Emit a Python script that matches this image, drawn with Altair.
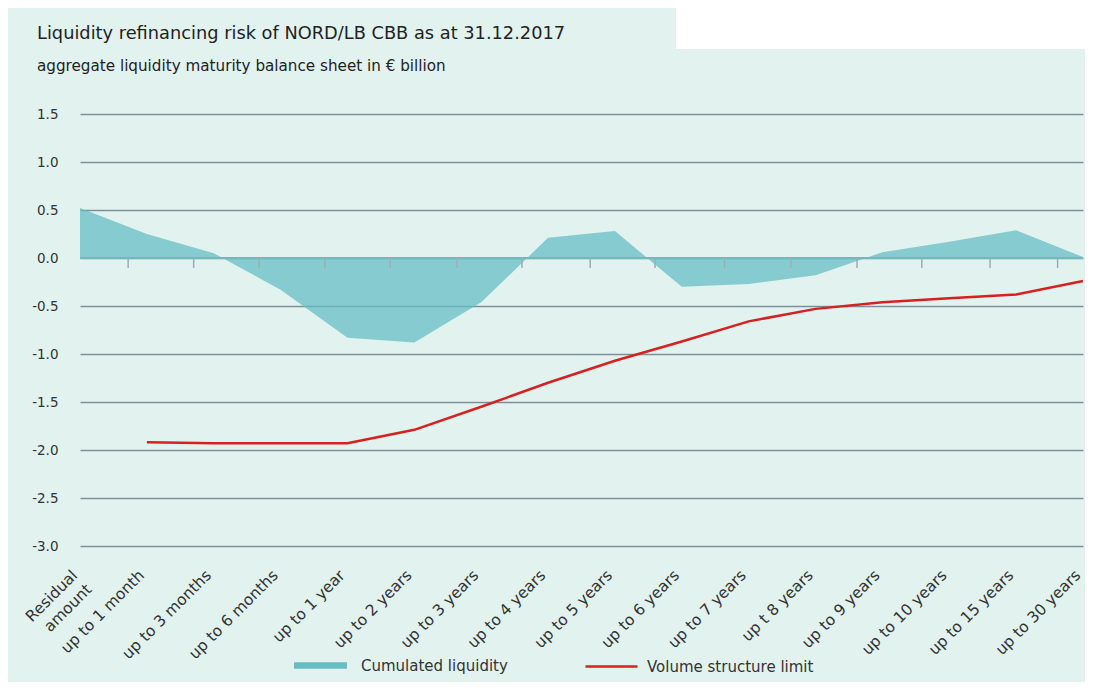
import json
import altair as alt
import pandas as pd

categories = ["Residual\namount", "up to 1 month", "up to 3 months", "up to 6 months",
              "up to 1 year", "up to 2 years", "up to 3 years", "up to 4 years",
              "up to 5 years", "up to 6 years", "up to 7 years", "up t 8 years",
              "up to 9 years", "up to 10 years", "up to 15 years", "up to 30 years"]
cumulated = [0.52, 0.25, 0.05, -0.33, -0.83, -0.88, -0.46, 0.21, 0.28, -0.30,
             -0.27, -0.18, 0.06, 0.17, 0.29, 0.01]
limit = [None, -1.92, -1.93, -1.93, -1.93, -1.79, -1.55, -1.30, -1.07, -0.87,
         -0.66, -0.53, -0.46, -0.42, -0.38, -0.24]
tick_pos = [0.72, 1.70, 2.68, 3.66, 4.64, 5.64, 6.61, 7.63, 8.60, 9.64,
            10.63, 11.62, 12.59, 13.61, 14.62]
y_ticks = [-3.0, -2.5, -2.0, -1.5, -1.0, -0.5, 0.0, 0.5, 1.0, 1.5]

FONT = "DejaVu Sans"
TEAL = "#66bec4"
RED = "#d7201f"
BG = "#e2f2ef"
TXT = "#333333"

df = pd.DataFrame({
    "idx": list(range(len(categories))),
    "cat": categories,
    "cum": cumulated,
    "lim": limit,
})
df["s1"] = "Cumulated liquidity"
df["s2"] = "Volume structure limit"
line_df = df.dropna(subset=["lim"])
ticks_df = pd.DataFrame({"t": tick_pos})

label_arr = [c.split("\n") if "\n" in c else c for c in categories]
label_expr = json.dumps(label_arr) + "[round(datum.value)]"

x_scale = alt.Scale(domain=[0, len(categories) - 1], nice=False, zero=False)
y_scale = alt.Scale(domain=[-3.0, 1.5], nice=False, zero=False)

x_axis = alt.Axis(values=list(range(len(categories))), labelExpr=label_expr,
                  labelAngle=-45, labelAlign="right", labelBaseline="bottom",
                  labelFontSize=15.5, labelColor=TXT, labelFont=FONT,
                  labelPadding=32, ticks=False, domain=False, grid=False,
                  title=None, labelOverlap=False, labelLineHeight=20,
                  labelBound=False, labelFlush=False)
y_axis = alt.Axis(values=y_ticks,
                  labelExpr="replace(format(datum.value, '.1f'), '\u2212', '-')",
                  labelFontSize=13.5, labelColor=TXT, labelFont=FONT,
                  labelPadding=22, ticks=False, domain=False, grid=True,
                  gridColor="#7d909c", gridWidth=1.3, title=None)

rect_path = "M-1,-0.12H1V0.12H-1Z"
line_path = "M-1,0H1"

area = alt.Chart(df).mark_area(opacity=0.75, interpolate="linear").encode(
    x=alt.X("idx:Q", scale=x_scale, axis=x_axis),
    y=alt.Y("cum:Q", scale=y_scale, axis=y_axis),
    y2=alt.datum(0),
    fill=alt.Fill("s1:N", scale=alt.Scale(range=[TEAL]),
                  legend=alt.Legend(title=None, orient="none", legendX=214, legendY=525,
                                    symbolType=rect_path, symbolSize=2809,
                                    symbolOpacity=1, symbolStrokeWidth=0,
                                    labelFontSize=15, labelFont=FONT, labelLimit=400,
                                    labelColor=TXT, labelOffset=14, padding=0)),
)

zero = alt.Chart(df).mark_rule(color="#72b9be", strokeWidth=2).encode(
    y=alt.datum(0)
)

tick_marks = alt.Chart(ticks_df).mark_rule(color="#9cadb8", strokeWidth=1.5).encode(
    x=alt.X("t:Q", scale=x_scale),
    y=alt.datum(0),
    y2=alt.datum(-0.105),
)

line = alt.Chart(line_df).mark_line(strokeWidth=2.5, interpolate="linear").encode(
    x=alt.X("idx:Q", scale=x_scale),
    y=alt.Y("lim:Q", scale=y_scale),
    stroke=alt.Stroke("s2:N", scale=alt.Scale(range=[RED]),
                      legend=alt.Legend(title=None, orient="none", legendX=504, legendY=525,
                                        symbolType=line_path, symbolSize=2704,
                                        symbolStrokeWidth=2.5,
                                        labelFontSize=15, labelFont=FONT, labelLimit=400,
                                        labelColor=TXT, labelOffset=8, padding=0)),
)

notch = alt.Chart(df).mark_rect(color="white").encode(
    x=alt.value(596), x2=alt.value(1010), y=alt.value(-106), y2=alt.value(-65)
)

chart = alt.layer(notch, area, zero, tick_marks, line).properties(
    width=1003,
    height=432,
    autosize=alt.AutoSizeParams(type="none"),
    padding={"left": 72, "top": 106, "right": 2, "bottom": 136},
    background=BG,
    title=alt.TitleParams(
        text="Liquidity refinancing risk of NORD/LB CBB as at 31.12.2017",
        subtitle="aggregate liquidity maturity balance sheet in \u20ac billion",
        anchor="start", frame="group", dx=-43, offset=-66,
        font=FONT, fontSize=17.8, fontWeight="normal", color="#222222",
        subtitleFont=FONT, subtitleFontSize=15.2, subtitleColor="#222222",
        subtitlePadding=16,
    ),
).configure_view(stroke=None)

chart.save("out.html", embed_options={"renderer": "svg", "actions": False})
